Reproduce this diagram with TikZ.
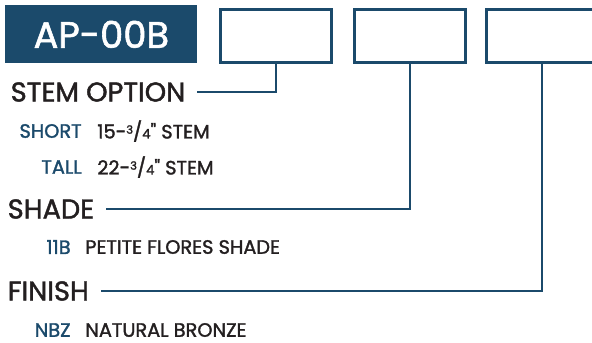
\documentclass[tikz,border=0pt]{standalone}
\usepackage{fontspec}
\setmainfont{Poppins}
\newfontfamily\medfont{Poppins}[RawFeature={embolden=1.6}]
\definecolor{codeblue}{HTML}{1B4A6B}
\definecolor{inkdark}{HTML}{231F20}
\newcommand{\threequarter}{-\raisebox{0.45ex}{\fontsize{6.5}{8}\selectfont 3}/{\fontsize{7.5}{9}\selectfont 4}"}

\begin{document}
\begin{tikzpicture}[x=0.02cm, y=-0.02cm,
  optbox/.style={draw=codeblue, line width=1.6pt, minimum width=2.22cm, minimum height=1.06cm, anchor=north west, inner sep=0pt},
  header/.style={anchor=west, font=\medfont\fontsize{15.5}{18}\selectfont, text=inkdark, inner xsep=6.5pt, inner ysep=0pt},
  code/.style={anchor=east, font=\medfont\fontsize{11}{14}\selectfont, text=codeblue, inner sep=0pt},
  desc/.style={anchor=west, font=\medfont\fontsize{11}{14}\selectfont, text=inkdark, inner sep=0pt},
  link/.style={draw=codeblue, line width=1.5pt}
]
  \useasboundingbox (0,0) rectangle (592,342);

  % model number and blank boxes
  \node[fill=codeblue, minimum width=3.84cm, minimum height=1.16cm, anchor=north west, inner sep=0pt,
    text=white, font=\medfont\fontsize{21}{24}\selectfont] (model) at (5,5) {AP-00B};
  \node[optbox] (box1) at (219,8) {};
  \node[optbox] (box2) at (353,8) {};
  \node[optbox] (box3) at (485,8) {};

  % stem
  \node[header] (stem) at (-1,92) {STEM OPTION};
  \node[code] (short) at (82,131) {SHORT};
  \node[desc] (shortd) at ([xshift=0.3cm]short.east) {15\threequarter{} STEM};
  \node[code] (tall) at (82,167) {TALL};
  \node[desc] (talld) at ([xshift=0.3cm]tall.east) {22\threequarter{} STEM};

  % shade
  \node[header] (shade) at (-4,209) {SHADE};
  \node[code] (c11b) at (71,247) {11B};
  \node[desc] (c11bd) at ([xshift=0.28cm]c11b.east) {PETITE FLORES SHADE};

  % finish
  \node[header] (finish) at (-4,291) {FINISH};
  \node[code] (nbz) at (71,330) {NBZ};
  \node[desc] (nbzd) at ([xshift=0.28cm]nbz.east) {NATURAL BRONZE};

  % connectors
  \draw[link] (box1.south) |- (stem.east);
  \draw[link] (box2.south) |- (shade.east);
  \draw[link] (box3.south) |- (finish.east);
\end{tikzpicture}
\end{document}
